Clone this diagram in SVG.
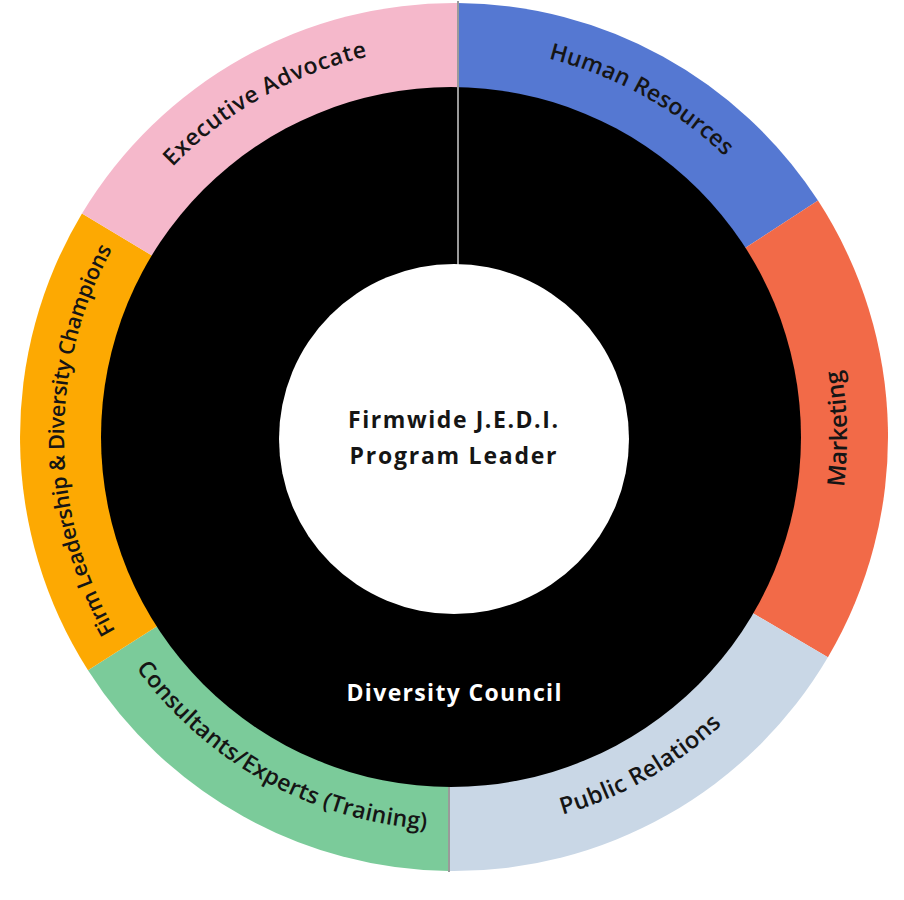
<svg xmlns="http://www.w3.org/2000/svg" xmlns:xlink="http://www.w3.org/1999/xlink" width="904" height="900" viewBox="0 0 904 900">
<style>
.lbl{font-family:"Open Sans","Liberation Sans",sans-serif;font-weight:600;fill:#151515}
.ctr{font-family:"Open Sans","Liberation Sans",sans-serif;font-weight:700;font-size:23px;text-anchor:middle}
.div{stroke:#9a9a9a;stroke-width:2;fill:none}
</style>
<defs>
<path id="cw" d="M-390,0 A390,390 0 0 1 390,0"/>
<path id="ccw" d="M-393,0 A393,393 0 0 0 393,0"/>
</defs>
<rect width="904" height="900" fill="#ffffff"/>
<g id="human-resources">
<path d="M454,437 L458,3 A434,434 0 0 1 818,200.6 Z" fill="#5578D2"/>
<text class="lbl" font-size="23" transform="translate(454,437) rotate(29)"><textPath href="#cw" startOffset="50%" text-anchor="middle" textLength="204" lengthAdjust="spacing">Human Resources</textPath></text>
</g>
<g id="marketing">
<path d="M454,437 L818,200.6 A434,434 0 0 1 827.9,657.3 Z" fill="#F26A48"/>
<text class="lbl" font-size="24" transform="translate(454,437) rotate(-91.25)"><textPath href="#ccw" startOffset="50%" text-anchor="middle" textLength="118" lengthAdjust="spacing">Marketing</textPath></text>
</g>
<g id="public-relations">
<path d="M454,437 L827.9,657.3 A434,434 0 0 1 449,871 Z" fill="#C9D7E6"/>
<text class="lbl" font-size="23.5" transform="translate(454,437) rotate(-29.5)"><textPath href="#ccw" startOffset="50%" text-anchor="middle" textLength="185" lengthAdjust="spacing">Public Relations</textPath></text>
</g>
<g id="consultants-experts">
<path d="M454,437 L449,871 A434,434 0 0 1 88,670.2 Z" fill="#7BCB9A"/>
<text class="lbl" font-size="23" transform="translate(454,437) rotate(29)"><textPath href="#ccw" startOffset="50%" text-anchor="middle" textLength="343" lengthAdjust="spacing">Consultants/Experts (Training)</textPath></text>
</g>
<g id="firm-leadership">
<path d="M454,437 L88,670.2 A434,434 0 0 1 82,213.5 Z" fill="#FDA902"/>
<text class="lbl" font-size="21.5" transform="translate(454,437) rotate(-90.5)"><textPath href="#cw" startOffset="50%" text-anchor="middle" textLength="399" lengthAdjust="spacing">Firm Leadership &amp; Diversity Champions</textPath></text>
</g>
<g id="executive-advocate">
<path d="M454,437 L82,213.5 A434,434 0 0 1 458,3 Z" fill="#F5B8CB"/>
<text class="lbl" font-size="23" transform="translate(454,437) rotate(-29.5)"><textPath href="#cw" startOffset="50%" text-anchor="middle" textLength="227" lengthAdjust="spacing">Executive Advocate</textPath></text>
</g>
<g id="diversity-council">
<circle cx="451" cy="437" r="350" fill="#000000"/>
<text class="ctr" x="454" y="701" fill="#ffffff" font-size="24" textLength="215" lengthAdjust="spacing">Diversity Council</text>
</g>
<g id="connectors">
<line class="div" x1="458" y1="1" x2="458" y2="266"/>
<line class="div" x1="449" y1="787" x2="449" y2="872"/>
</g>
<g id="program-leader">
<circle cx="454" cy="439" r="175" fill="#ffffff"/>
<text class="ctr" x="453" y="428" fill="#151515" textLength="210" lengthAdjust="spacing">Firmwide J.E.D.I.</text>
<text class="ctr" x="453" y="464" fill="#151515" textLength="207" lengthAdjust="spacing">Program Leader</text>
</g>
</svg>
